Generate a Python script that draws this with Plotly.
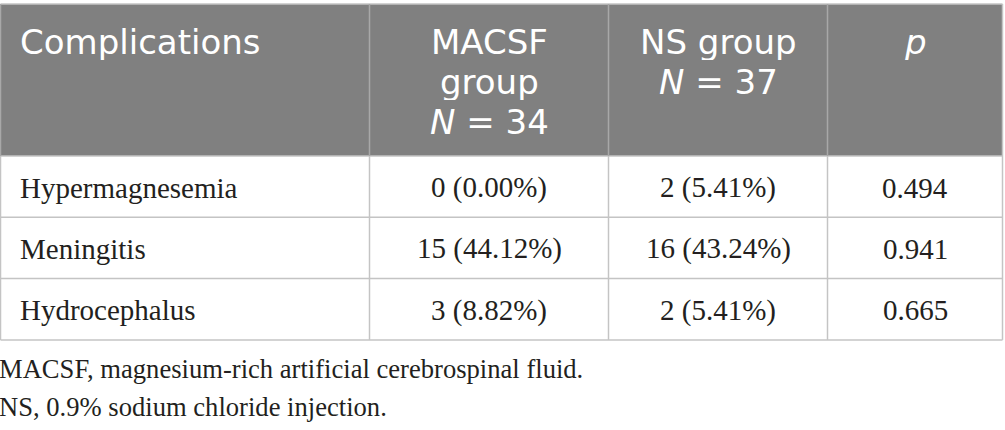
import numpy as np
import plotly.graph_objects as go

# table content
header = [["Complications"], ["MACSF", "group", "<i>N</i> = 34"], ["NS group", "<i>N</i> = 37"], ["<i>p</i>"]]
complications = ["Hypermagnesemia", "Meningitis", "Hydrocephalus"]
macsf_group = ["0 (0.00%)", "15 (44.12%)", "3 (8.82%)"]
ns_group = ["2 (5.41%)", "16 (43.24%)", "2 (5.41%)"]
p_values = ["0.494", "0.941", "0.665"]
footnotes = ["MACSF, magnesium-rich artificial cerebrospinal fluid.",
             "NS, 0.9% sodium chloride injection."]

# layout of the grid (pixels)
col_widths = [369, 239, 219, 175]
top, header_h, row_h = 4, 152, 61.3
col_edges = np.concatenate([[0.5], 0.5 + np.cumsum(col_widths)])
row_edges = top + header_h + row_h * np.arange(len(complications) + 1)

line_col = "#c4c4c4"
head_fill = "#808080"
text_col = "#231f20"
sans = "DejaVu Sans"
serif = "Liberation Serif"

fig = go.Figure()

# header background and grid lines
fig.add_shape(type="rect", x0=col_edges[0], x1=col_edges[-1], y0=top, y1=row_edges[0],
              fillcolor=head_fill, line=dict(width=0), layer="below")
for y in [top] + list(row_edges):
    fig.add_shape(type="line", x0=col_edges[0], x1=col_edges[-1], y0=y, y1=y,
                  line=dict(color=line_col, width=1.5))
for x in col_edges:
    inner = 0 < x < col_edges[-1]
    fig.add_shape(type="line", x0=x, x1=x, y0=top, y1=row_edges[0],
                  line=dict(color="#a8a8a8" if inner else line_col, width=1.5))
    fig.add_shape(type="line", x0=x, x1=x, y0=row_edges[0], y1=row_edges[-1],
                  line=dict(color=line_col, width=1.5))

pad = 17

# header text, one annotation per line
line_gap = 40
for c, lines in enumerate(header):
    left = c == 0
    xc = col_edges[0] + pad if left else (col_edges[c] + col_edges[c + 1]) / 2
    for k, txt in enumerate(lines):
        fig.add_annotation(x=xc, y=41.5 + k * line_gap, text=txt, showarrow=False,
                           xanchor="left" if left else "center", yanchor="middle",
                           height=36, valign="middle",
                           font=dict(family=sans, size=34, color="white"))

# body text
columns = [complications, macsf_group, ns_group, p_values]
for c, vals in enumerate(columns):
    left = c == 0
    xc = col_edges[0] + pad if left else (col_edges[c] + col_edges[c + 1]) / 2
    for r, txt in enumerate(vals):
        yc = (row_edges[r] + row_edges[r + 1]) / 2 + 1
        fig.add_annotation(x=xc, y=yc, text=txt, showarrow=False,
                           xanchor="left" if left else "center", yanchor="middle",
                           font=dict(family=serif, size=29, color=text_col))

# footnotes
for i, note in enumerate(footnotes):
    fig.add_annotation(x=0, y=369 + i * 37.5, text=note, showarrow=False, xshift=-3,
                       xanchor="left", yanchor="middle",
                       font=dict(family=serif, size=26.6, color=text_col))

fig.update_xaxes(range=[0, 1005], visible=False, fixedrange=True)
fig.update_yaxes(range=[430, 0], visible=False, fixedrange=True)
fig.update_layout(
    width=1005, height=430,
    margin=dict(l=0, r=0, t=0, b=0),
    paper_bgcolor="white", plot_bgcolor="white",
    showlegend=False,
)

fig.write_html("out.html", config={"displayModeBar": False},
               post_script="document.body.style.margin = '0';")
